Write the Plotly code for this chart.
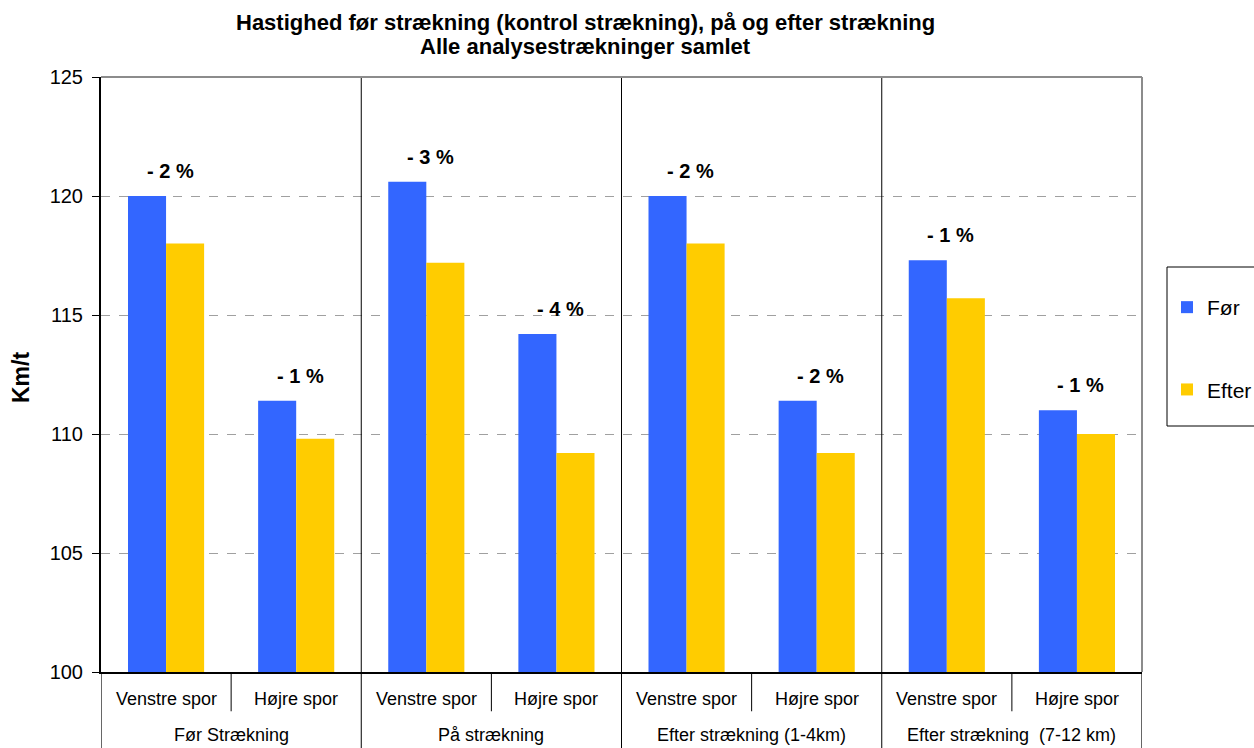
import plotly.graph_objects as go

# Speed before/after, per track side, for each road section
groups = ["Før Strækning", "På strækning", "Efter strækning (1-4km)", "Efter strækning  (7-12 km)"]
sides = ["Venstre spor", "Højre spor"]
foer = [120.0, 111.4, 120.6, 114.2, 120.0, 111.4, 117.3, 111.0]
efter = [118.0, 109.8, 117.2, 109.2, 118.0, 109.2, 115.7, 110.0]
change_labels = ["- 2 %", "- 1 %", "- 3 %", "- 4 %", "- 2 %", "- 2 %", "- 1 %", "- 1 %"]
y_ticks = [100, 105, 110, 115, 120, 125]
title_lines = ["Hastighed før strækning (kontrol strækning), på og efter strækning",
               "Alle analysestrækninger samlet"]

FONT = "Liberation Sans, Arial, sans-serif"
BLUE = "#3366FF"
YELLOW = "#FFCC00"

# plot area geometry in pixels
W, H = 1254, 748
L, R, T, B = 101, 112, 77, 76
PH = H - T - B


def py(pix):
    """pixel row -> paper y"""
    return (H - B - pix) / PH


def px(pix):
    """pixel column -> paper x"""
    return (pix - L) / (W - L - R)


n = len(foer)
xs = list(range(n))

fig = go.Figure()
fig.add_trace(go.Bar(x=xs, y=foer, name="Før", marker_color=BLUE,
                     marker_line_width=0, legendgroup="a"))
fig.add_trace(go.Bar(x=xs, y=efter, name="Efter", marker_color=YELLOW,
                     marker_line_width=0, legendgroup="b"))

annotations = []
# title, two lines
for text, row in zip(title_lines, [22, 47]):
    annotations.append(dict(x=px(585), y=py(row), xref="paper", yref="paper",
                            text=f"<b>{text}</b>", showarrow=False,
                            xanchor="center", yanchor="middle",
                            font=dict(family=FONT, size=22, color="black")))

# percentage change labels above each pair
for i, (v, lab) in enumerate(zip(foer, change_labels)):
    annotations.append(dict(x=i, y=v, text=f"<b>{lab}</b>", showarrow=False,
                            xref="x", yref="y", yanchor="bottom", yshift=12,
                            xshift=4, font=dict(family=FONT, size=20, color="black")))

# two-level category labels under the axis
for i in range(n):
    annotations.append(dict(x=i, y=0, text=sides[i % 2], showarrow=False,
                            xref="x", yref="paper", yanchor="middle", yshift=-27,
                            font=dict(family=FONT, size=18, color="black")))
for g, name in enumerate(groups):
    annotations.append(dict(x=2 * g + 0.5, y=0, text=name, showarrow=False,
                            xref="x", yref="paper", yanchor="middle", yshift=-63,
                            font=dict(family=FONT, size=18, color="black")))

annotations.append(dict(x=px(21), y=py(378), xref="paper", yref="paper", text="<b>Km/t</b>",
                        textangle=-90, showarrow=False, xanchor="center", yanchor="middle",
                        font=dict(family=FONT, size=23, color="black")))

shapes = []
# group separators through plot and label rows
for b in [1.5, 3.5, 5.5]:
    shapes.append(dict(type="line", xref="x", yref="paper", x0=b, x1=b, y0=1, y1=-0.13,
                       line=dict(color="black", width=1)))
for b in [-0.5, 7.5]:
    shapes.append(dict(type="line", xref="x", yref="paper", x0=b, x1=b, y0=0, y1=-0.13,
                       line=dict(color="black", width=1.2)))
# short dividers between track sides
for b in [0.5, 2.5, 4.5, 6.5]:
    shapes.append(dict(type="line", xref="x", yref="paper", x0=b, x1=b, y0=0, y1=-0.066,
                       line=dict(color="black", width=1)))
# plot area frame (top and right)
shapes.append(dict(type="line", xref="paper", yref="paper", x0=0, x1=1, y0=1, y1=1,
                   line=dict(color="#8c8c8c", width=2)))
shapes.append(dict(type="line", xref="paper", yref="paper", x0=1, x1=1, y0=0, y1=1,
                   line=dict(color="#8c8c8c", width=2)))
# legend frame
shapes.append(dict(type="rect", xref="paper", yref="paper", x0=px(1167), x1=px(1262),
                   y0=py(426), y1=py(267), line=dict(color="black", width=1),
                   fillcolor="rgba(0,0,0,0)", layer="above"))

fig.update_layout(
    width=W, height=H,
    margin=dict(l=L, r=R, t=T, b=B, autoexpand=False),
    paper_bgcolor="white", plot_bgcolor="white",
    barmode="group", bargap=0.415, bargroupgap=0,
    font=dict(family=FONT, color="black"),
    xaxis=dict(range=[-0.5, 7.5], showticklabels=False, ticks="", showgrid=False,
               zeroline=False, showline=True, linecolor="black", linewidth=2),
    yaxis=dict(range=[100, 125], tickvals=y_ticks, ticks="outside", ticklen=7,
               tickcolor="black", showline=True, linecolor="black", linewidth=2,
               showgrid=True, gridcolor="#a0a0a0", griddash="dash", gridwidth=1,
               zeroline=False, ticklabelstandoff=5,
               tickfont=dict(family=FONT, size=20, color="black")),
    legend=dict(x=px(1167), y=py(287), xanchor="left", yanchor="top",
                borderwidth=0, bgcolor="rgba(0,0,0,0)",
                font=dict(family=FONT, size=21, color="black"),
                traceorder="grouped", tracegroupgap=52, itemwidth=30),
    annotations=annotations, shapes=shapes,
)

fig.write_html("out.html")
